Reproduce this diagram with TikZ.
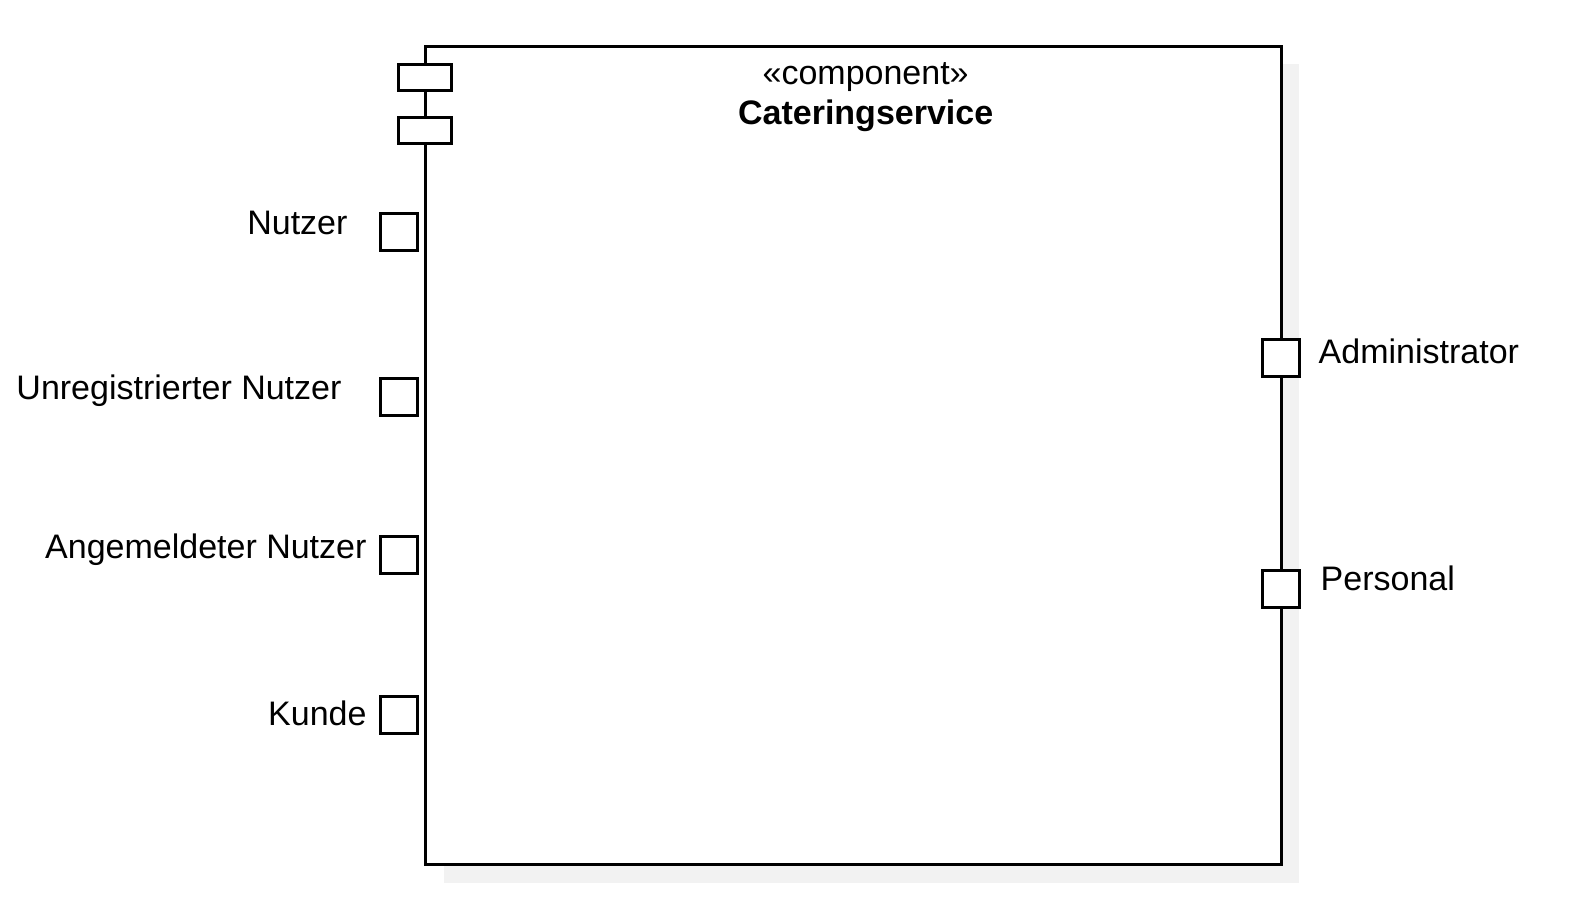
\documentclass[tikz,border=0pt]{standalone}
\usepackage{fontspec}
\setmainfont{Liberation Sans}
\begin{document}
\begin{tikzpicture}[x=1.0019pt,y=-1.0019pt,
  line/.style={line width=3pt,draw=black},
  port/.style={line, fill=white, minimum width=37pt, minimum height=37pt, inner sep=0pt, outer sep=0pt},
  lbl/.style={font=\fontsize{34}{40}\selectfont, inner sep=0pt, anchor=base east},
  rlbl/.style={font=\fontsize{34}{40}\selectfont, inner sep=0pt, anchor=base west}]
\useasboundingbox (0,0) rectangle (1568,905.2);
% shadow
\fill[black!5] (443,64) rectangle (1297,881);
% main box
\draw[line, fill=white] (425,46) rectangle (1279,863);
\node (main) at (852,454.5) {};
% component icon
\draw[line, fill=white] (398,64) rectangle (451,90);
\draw[line, fill=white] (398,117) rectangle (451,143);
% titles
\node[font=\fontsize{34}{40}\selectfont, inner sep=0pt, anchor=base] (st) at (864,84) {«component»};
\node[font=\fontsize{34}{40}\selectfont\bfseries, inner sep=0pt, anchor=base] (nm) at (864,124) {Cateringservice};
% left ports
\node[port] (p1) at (398.5,231.5) {};
\node[port] (p2) at (398.5,396.5) {};
\node[port] (p3) at (398.5,554) {};
\node[port] (p4) at (398.5,714) {};
% right ports
\node[port] (p5) at (1278.5,357.5) {};
\node[port] (p6) at (1278.5,588) {};
% labels
\node[lbl] (l1) at (347,234) {Nutzer};
\node[lbl] (l2) at (341,399) {Unregistrierter Nutzer};
\node[lbl] (l3) at (366,557) {Angemeldeter Nutzer};
\node[lbl] (l4) at (366,724) {Kunde};
\node[rlbl] (l5) at (1316,363) {Administrator};
\node[rlbl] (l6) at (1318,589) {Personal};
\end{tikzpicture}
\end{document}
